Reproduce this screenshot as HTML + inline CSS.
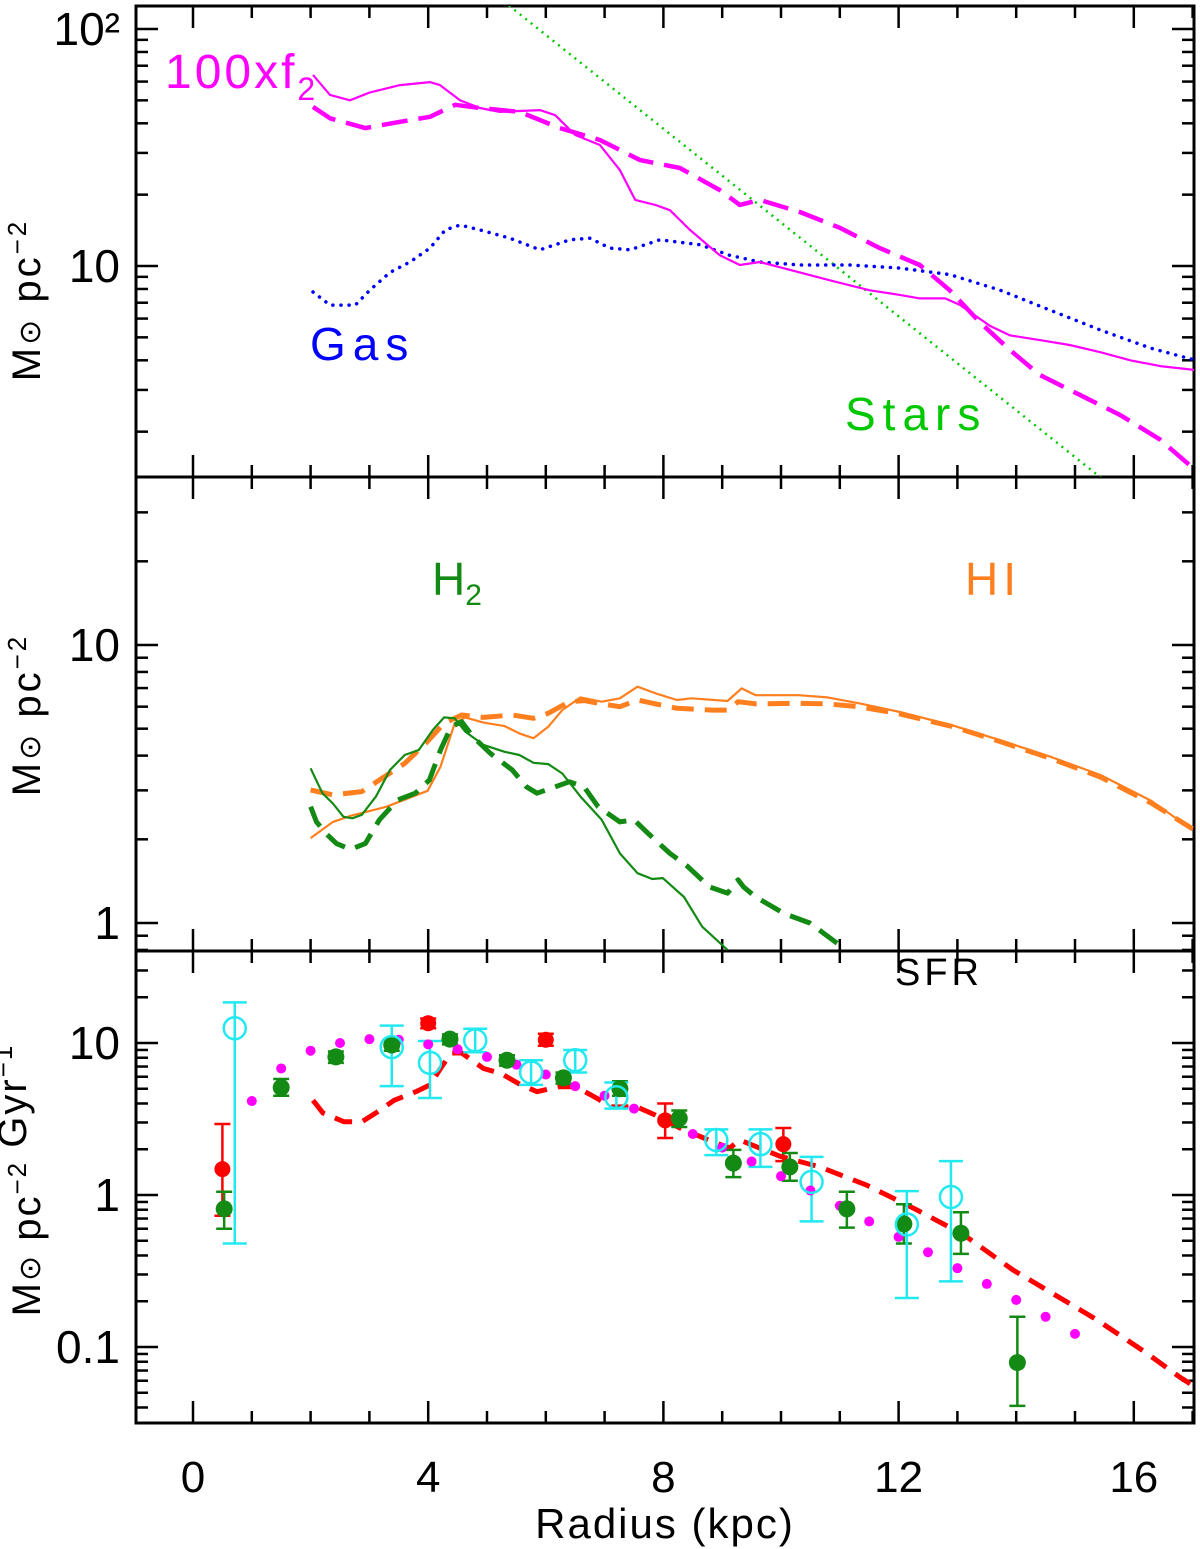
<!DOCTYPE html>
<html><head><meta charset="utf-8"><style>
html,body{margin:0;padding:0;background:#fff;}
svg{display:block;}
text{font-family:"Liberation Sans",sans-serif;}
</style></head><body>
<svg id="chart" width="1200" height="1549" viewBox="0 0 1200 1549" xmlns="http://www.w3.org/2000/svg">
<defs>
<clipPath id="c1"><rect x="136" y="6" width="1058" height="471"/></clipPath>
<clipPath id="c2"><rect x="136" y="477" width="1058" height="474"/></clipPath>
<clipPath id="c3"><rect x="136" y="951" width="1058" height="472"/></clipPath>
</defs>
<g id="axes"></g>
<g id="p1" clip-path="url(#c1)"></g>
<g id="p2" clip-path="url(#c2)"></g>
<g id="p3" clip-path="url(#c3)"></g>
<g id="labels">
<text x="165" y="88" font-size="48" letter-spacing="3" fill="#ff00ff">100xf<tspan font-size="32" dy="12">2</tspan></text>
<text x="310" y="360" font-size="46" letter-spacing="7" fill="#0000ff">Gas</text>
<text x="845" y="430" font-size="46" letter-spacing="7" fill="#00c800">Stars</text>
<text x="432" y="595" font-size="46" fill="#138a13">H<tspan font-size="30" dy="10">2</tspan></text>
<text x="965" y="595" font-size="46" letter-spacing="5" fill="#ff7f1f">HI</text>
<text x="895" y="985" font-size="38" letter-spacing="4" fill="#000">SFR</text>
<text x="665" y="1538" font-size="42" letter-spacing="2" text-anchor="middle">Radius (kpc)</text>
<text transform="translate(40,300) rotate(-90)" font-size="40" letter-spacing="3" text-anchor="middle">M<tspan font-size="30">⊙</tspan> pc<tspan font-size="26" dy="-14">−2</tspan></text>
<text transform="translate(40,715) rotate(-90)" font-size="40" letter-spacing="3" text-anchor="middle">M<tspan font-size="30">⊙</tspan> pc<tspan font-size="26" dy="-14">−2</tspan></text>
<text transform="translate(40,1180) rotate(-90)" font-size="40" letter-spacing="2" text-anchor="middle">M<tspan font-size="30">⊙</tspan> pc<tspan font-size="26" dy="-14">−2</tspan> Gyr<tspan font-size="26" dy="-14">−1</tspan></text>
</g>
</svg>
<script>
// ---- data ----
const xTicks = [0,4,8,12,16];
const p1Ticks = ["10²","10"];
const p2Ticks = ["10","1"];
const p3Ticks = ["10","1","0.1"];

const f2SolidR = [2.04,2.33,2.67,3.01,3.52,4.03,4.2,4.54,4.88,5.22,5.9,6.16,6.5,6.92,7.26,7.52,7.86,8.11,8.45,8.96,9.3,9.64,10.32,10.83,11.51,12.02,12.36,12.79,13.04,13.55,13.89,14.4,14.91,15.43,15.94,16.45,17.04];
const f2SolidV = [64,52.7,50,54,58,59.7,58,50,46.4,44.7,45.5,43.3,35.7,32.4,25.4,19,18.1,17.2,14.2,11.1,10.1,10.4,9.4,8.7,7.9,7.55,7.3,7.3,6.85,5.6,5.1,4.87,4.64,4.33,4.0,3.78,3.64];
const f2DashR = [2.04,2.33,2.93,3.52,4.03,4.46,4.88,5.56,6.24,6.92,7.6,8.28,8.96,9.3,9.64,10.32,11.0,11.68,12.36,12.87,13.38,13.89,14.4,15.08,15.77,16.45,17.04];
const f2DashV = [46.9,42,38.2,40.6,42.6,47.9,46.4,44.7,38.2,34,28,25.9,20.9,18.1,19,16.9,14.5,11.9,10.1,7.9,5.8,4.43,3.47,2.86,2.35,1.85,1.38];
const gasR = [2.04,2.33,2.76,3.01,3.35,3.69,4.03,4.29,4.54,4.88,5.39,5.9,6.41,6.75,7.09,7.43,7.94,8.62,9.13,9.64,10.32,11.17,12.02,12.87,13.72,14.57,15.43,16.28,17.04];
const gasV = [7.77,6.84,6.84,7.92,9.4,10.4,11.9,14.2,14.9,14.2,13.1,11.7,12.9,13.1,11.9,11.7,12.9,12.3,11.1,10.4,10.1,10.1,9.8,9.2,7.92,6.52,5.37,4.51,4.01];
const starsR = [5.0,16.0];
const starsV = [149,0.99];

const hiSolidR = [2.0,2.38,2.68,3.29,3.99,4.21,4.45,4.63,4.94,5.3,5.55,5.79,6.04,6.28,6.59,6.95,7.26,7.56,7.87,8.23,8.48,9.09,9.33,9.57,10.3,10.79,11.33,12.02,12.9,13.72,14.6,15.43,16.3,17.0];
const hiSolidV = [2.02,2.31,2.43,2.62,2.99,3.65,5.23,5.49,5.26,5.11,4.81,4.62,5.08,5.83,6.48,6.25,6.43,7.08,6.7,6.34,6.43,6.29,6.98,6.6,6.6,6.48,6.17,5.74,5.15,4.55,3.95,3.41,2.75,2.16];
const hiDashR = [2.0,2.38,2.87,3.17,3.6,3.96,4.27,4.57,4.94,5.43,5.79,6.04,6.4,6.65,6.95,7.26,7.56,7.87,8.23,8.84,9.09,9.27,9.57,10.3,10.79,11.33,12.02,12.9,13.72,14.6,15.43,16.3,17.0];
const hiDashV = [3.01,2.89,2.97,3.27,3.75,4.43,5.23,5.6,5.49,5.6,5.45,5.68,6.25,6.31,6.14,6.0,6.34,6.14,5.92,5.83,5.83,6.25,6.14,6.17,6.14,6.0,5.65,5.1,4.5,3.9,3.35,2.7,2.18];
const h2SolidR = [2.0,2.2,2.38,2.56,2.71,2.87,3.11,3.35,3.6,3.84,4.08,4.27,4.45,4.63,4.94,5.3,5.55,5.79,6.04,6.28,6.59,6.95,7.26,7.56,7.81,7.99,8.35,8.66,9.09];
const h2SolidV = [3.6,2.93,2.69,2.41,2.38,2.45,2.85,3.55,4.02,4.19,4.95,5.49,5.45,4.88,4.37,4.13,4.02,3.77,3.73,3.45,2.85,2.35,1.78,1.51,1.44,1.45,1.24,0.97,0.80];
const h2DashR = [2.0,2.1,2.26,2.44,2.68,2.93,3.17,3.48,3.78,4.02,4.21,4.39,4.57,4.76,5.06,5.43,5.67,5.85,6.16,6.4,6.65,6.89,7.26,7.5,7.74,8.11,8.41,8.78,9.09,9.27,9.36,9.57,10.06,10.49,11.04];
const h2DashV = [2.62,2.31,2.10,1.93,1.84,1.93,2.35,2.77,2.93,3.27,4.19,5.08,5.3,4.68,4.07,3.55,3.09,2.93,3.09,3.22,3.09,2.62,2.31,2.35,2.10,1.78,1.60,1.35,1.28,1.43,1.35,1.24,1.08,1.0,0.82];

const modelR = [2.04,2.21,2.57,2.87,3.11,3.42,3.79,4.03,4.21,4.39,4.57,4.94,5.24,5.54,5.85,6.22,6.51,6.82,7.13,7.55,7.86,8.28,8.84,9.13,9.3,9.98,10.66,11.46,12.25,13.1,13.95,14.52,15.37,16.22,16.79,17.0];
const modelV = [4.2,3.47,3.03,3.03,3.47,4.2,4.78,5.3,6.8,8.6,8.6,6.8,6.3,5.4,4.78,5.15,5.15,4.43,3.8,3.8,3.36,2.76,2.24,2.04,2.3,1.8,1.53,1.16,0.82,0.55,0.32,0.237,0.151,0.091,0.063,0.056];
const dotsR = [1,1.5,2,2.5,3,3.5,4,4.5,5,5.5,6,6.5,7,7.5,8,8.5,9,9.5,10,10.5,11,11.5,12,12.5,13,13.5,14,14.5,15];
const dotsV = [4.15,6.8,8.9,10,10.6,10.5,9.8,9.1,8.1,7.2,6.2,5.2,4.5,3.7,3.0,2.52,2.05,1.66,1.33,1.07,0.85,0.67,0.53,0.42,0.33,0.26,0.204,0.158,0.122];
const greenR = [0.53,1.5,2.43,3.38,4.37,5.34,6.3,7.26,8.27,9.19,10.15,11.12,12.09,13.06,14.02];
const greenV = [0.81,5.1,8.1,9.7,10.6,7.7,5.9,5.0,3.2,1.62,1.53,0.81,0.645,0.56,0.079];
const greenHi = [1.05,5.8,8.8,10.5,11.4,8.3,6.4,5.6,3.6,1.98,1.89,1.05,0.87,0.77,0.158];
const greenLo = [0.6,4.5,7.4,8.9,9.8,7.1,5.4,4.5,2.8,1.31,1.24,0.61,0.48,0.41,0.041];
const redR = [0.5,4.0,6.0,8.03,10.04];
const redV = [1.48,13.5,10.5,3.1,2.16];
const redHi = [2.93,14.5,11.5,4.0,2.76];
const redLo = [0.73,12.5,9.6,2.37,1.67];
const cyanR = [0.71,3.38,4.03,4.8,5.75,6.5,7.2,8.9,9.65,10.52,12.14,12.89];
const cyanV = [12.5,9.4,7.4,10.4,6.4,7.7,4.4,2.3,2.16,1.22,0.64,0.97];
const cyanHi = [18.5,13,10.3,12.4,7.7,9.0,5.5,2.7,2.7,1.78,1.06,1.67];
const cyanLo = [0.48,5.2,4.35,8.7,5.3,6.4,3.7,1.83,1.53,0.67,0.21,0.27];

// ---- scales ----
const X0=136, X1=1194;
const xs = r => 193 + r*58.8;
const y1 = v => 266 - (Math.log10(v)-1)*237;
const y2 = v => 923 - Math.log10(v)*278;
const y3 = v => 1195 - Math.log10(v)*152;
const NS="http://www.w3.org/2000/svg";
function mk(tag, attrs, parent){
  const e=document.createElementNS(NS,tag);
  for(const k in attrs) e.setAttribute(k,attrs[k]);
  parent.appendChild(e); return e;
}
function pathD(R,V,ys){return R.map((r,i)=>(i?'L':'M')+xs(r).toFixed(1)+' '+ys(V[i]).toFixed(1)).join(' ');}
function line(parent,R,V,ys,color,w,dash,name){
  const p=mk('path',{d:pathD(R,V,ys),fill:'none',stroke:color,'stroke-width':w,'stroke-linecap':dash&&dash.startsWith('0')?'round':'butt','stroke-linejoin':'round'},parent);
  if(dash) p.setAttribute('stroke-dasharray',dash);
  
  
  return p;
}

// ---- axes frames and ticks ----
const ax=document.getElementById('axes');
const panels=[
  {top:6,bot:477,ys:y1,lo:1,hi:2,labels:p1Ticks,name:'top'},
  {top:477,bot:951,ys:y2,lo:-1,hi:1,labels:p2Ticks,name:'middle'},
  {top:951,bot:1423,ys:y3,lo:-2,hi:1,labels:p3Ticks,name:'bottom'}
];
panels.forEach((P,pi)=>{
  const fr=mk('rect',{x:X0,y:P.top,width:X1-X0,height:P.bot-P.top,fill:'none',stroke:'#000','stroke-width':3},ax);
  
  
  for(let r=0;r<=17;r++){
    const L = r%4===0?22:12;
    mk('line',{x1:xs(r),x2:xs(r),y1:P.bot,y2:P.bot-L,stroke:'#000','stroke-width':2.5},ax);
    mk('line',{x1:xs(r),x2:xs(r),y1:P.top,y2:P.top+L,stroke:'#000','stroke-width':2.5},ax);
  }
  for(let d=P.lo-1; d<=P.hi; d++){
    for(let m=1;m<10;m++){
      const v=m*Math.pow(10,d); const y=P.ys(v);
      if(y<P.top+1||y>P.bot-1) continue;
      const L=m===1?22:12;
      mk('line',{x1:X0,x2:X0+L,y1:y,y2:y,stroke:'#000','stroke-width':2.5},ax);
      mk('line',{x1:X1,x2:X1-L,y1:y,y2:y,stroke:'#000','stroke-width':2.5},ax);
    }
  }
});
const ylabs=[[y1(100),p1Ticks[0]],[y1(10),p1Ticks[1]],[y2(10),p2Ticks[0]],[y2(1),p2Ticks[1]],[y3(10),p3Ticks[0]],[y3(1),p3Ticks[1]],[y3(0.1),p3Ticks[2]]];
ylabs.forEach(([y,t])=>{
  const e=mk('text',{x:120,y:y+16,'font-size':46,'text-anchor':'end','font-family':'Liberation Serif, serif'},ax);
  e.textContent=t;
  
  
});
xTicks.forEach(t=>{
  const e=mk('text',{x:xs(t),y:1492,'font-size':44,'text-anchor':'middle'},ax);
  e.textContent=t;
  
  
});

// ---- panel 1 ----
const p1=document.getElementById('p1');
line(p1,starsR,starsV,y1,'#00c800',2.5,'2 5','stars-line');
line(p1,gasR,gasV,y1,'#0000ff',3.5,'0.1 8','gas-line');
line(p1,f2SolidR,f2SolidV,y1,'#ff00ff',2.2,null,'f2-solid-line');
line(p1,f2DashR,f2DashV,y1,'#ff00ff',4.5,'26 11','f2-dashed-line');
// ---- panel 2 ----
const p2=document.getElementById('p2');
line(p2,hiSolidR,hiSolidV,y2,'#ff7f1f',2.2,null,'hi-solid-line');
line(p2,hiDashR,hiDashV,y2,'#ff7f1f',5,'22 11','hi-dashed-line');
line(p2,h2SolidR,h2SolidV,y2,'#138a13',2.2,null,'h2-solid-line');
line(p2,h2DashR,h2DashV,y2,'#138a13',5,'22 11','h2-dashed-line');
// ---- panel 3 ----
const p3=document.getElementById('p3');
line(p3,modelR,modelV,y3,'#ff0000',5,'18 11','sfr-model-line');
function errs(R,V,Hi,Lo,color,cap,name){
  R.forEach((r,i)=>{
    const x=xs(r);
    const g=mk('g',{stroke:color,'stroke-width':2.5},p3);
    
    
    mk('line',{x1:x,x2:x,y1:y3(Hi[i]),y2:y3(Lo[i])},g);
    mk('line',{x1:x-cap,x2:x+cap,y1:y3(Hi[i]),y2:y3(Hi[i])},g);
    mk('line',{x1:x-cap,x2:x+cap,y1:y3(Lo[i]),y2:y3(Lo[i])},g);
  });
}
errs(redR,redV,redHi,redLo,'#ff0000',8,'red');
errs(greenR,greenV,greenHi,greenLo,'#138a13',8,'green');
errs(cyanR,cyanV,cyanHi,cyanLo,'#22e8f0',12,'cyan');
dotsR.forEach((r,i)=>{
  const c=mk('circle',{cx:xs(r),cy:y3(dotsV[i]),r:5,fill:'#ff00ff'},p3);
  
  
});
redR.forEach((r,i)=>{
  const c=mk('circle',{cx:xs(r),cy:y3(redV[i]),r:8,fill:'#ff0000'},p3);
  
  
});
greenR.forEach((r,i)=>{
  const c=mk('circle',{cx:xs(r),cy:y3(greenV[i]),r:8.5,fill:'#138a13'},p3);
  
  
});
cyanR.forEach((r,i)=>{
  const c=mk('circle',{cx:xs(r),cy:y3(cyanV[i]),r:11,fill:'none',stroke:'#22e8f0','stroke-width':2.5},p3);
  
  
});
</script>
</body></html>
